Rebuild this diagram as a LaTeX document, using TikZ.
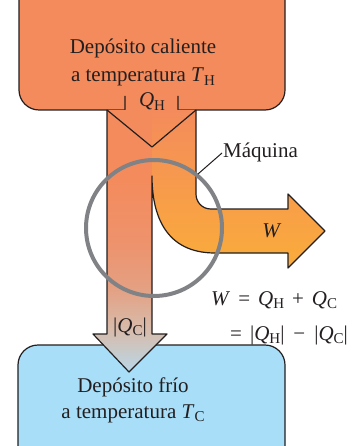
\documentclass[tikz,border=0pt]{standalone}
\usepackage{fontspec}
\setmainfont{Liberation Serif}
\definecolor{ink}{RGB}{35,31,32}
\definecolor{hotorange}{RGB}{244,139,92}
\definecolor{coldblue}{RGB}{168,222,247}
\definecolor{wbot}{RGB}{250,172,58}
\definecolor{ring}{RGB}{128,130,133}
\definecolor{csA}{RGB}{244,139,92}
\definecolor{csB}{RGB}{238,146,108}
\definecolor{csC}{RGB}{228,160,130}
\definecolor{csD}{RGB}{215,188,172}
\definecolor{csE}{RGB}{185,215,232}
\pgfdeclareverticalshading{colshade}{100bp}{color(0bp)=(csE); color(25bp)=(csE); color(33bp)=(csD); color(41bp)=(csC); color(50bp)=(csB); color(62bp)=(csA); color(100bp)=(csA)}
\newcommand\lsub[1]{\raisebox{-0.19em}{\fontsize{15}{15}\selectfont #1}}
\newcommand\gp{\hspace{8pt}}
\begin{document}
\begin{tikzpicture}[x=1pt,y=-1pt,line join=round,
  outl/.style={draw=ink,line width=1.2pt},
  lbl/.style={inner sep=0pt,text=ink,font=\fontsize{21}{26}\selectfont}]
\useasboundingbox (0,0) rectangle (354,446);
% cold reservoir
\path[fill=coldblue,outl] (18,470) -- (18,365) .. controls (18,354) and (27,345) .. (38,345) -- (265,345) .. controls (276,345) and (285,354) .. (285,365) -- (285,470);
% hot reservoir
\fill[hotorange] (19,-30) -- (19,90) .. controls (19,101) and (28,110) .. (39,110) -- (265,110) .. controls (276,110) and (285,101) .. (285,90) -- (285,-30) -- cycle;
\draw[outl] (19,-30) -- (19,90) .. controls (19,101) and (28,110) .. (39,110) -- (125,110) -- (125,96);
\draw[outl] (178,96) -- (178,110) -- (265,110) .. controls (276,110) and (285,101) .. (285,90) -- (285,-30);
% left column to cold reservoir
\shade[shading=colshade] (107,110) -- (107,334) -- (93,334) -- (129,372) -- (167,334) -- (152,334) -- (152,110) -- cycle;
% bent part to W
\shade[top color=hotorange,bottom color=wbot] (152,110) -- (196,110) -- (196,194) .. controls (196,202) and (202,209) .. (211,209) -- (288,209) -- (288,194) -- (325,231) -- (288,268) -- (288,253) -- (215,253) .. controls (166,253) and (152,216) .. (152,176) -- cycle;
\draw[outl] (196,110) -- (196,194) .. controls (196,202) and (202,209) .. (211,209) -- (288,209) -- (288,194) -- (325,231) -- (288,268) -- (288,253) -- (215,253) .. controls (166,253) and (152,216) .. (152,176) -- (152,334) -- (167,334) -- (129,372) -- (93,334) -- (107,334) -- (107,110);
\draw[outl] (107,110) -- (152,147) -- (196,110);
% engine ring
\draw[ring,line width=4pt] (154,228) circle[radius=68pt];
% labels
\node[lbl,anchor=base] (hot1) at (143,54) {Depósito caliente};
\node[lbl,anchor=base] (hot2) at (143,82) {a temperatura \textit{T}\lsub{H}};
\node[lbl,anchor=base] (qh) at (152,107) {\textit{Q}\lsub{H}};
\node[lbl,anchor=base west] (maq) at (223,158) {Máquina};
\coordinate (maqpt) at (198,174);
\draw[ink,line width=1pt] (maqpt) -- ([shift={(-1,-5)}]maq.base west);
\node[lbl,anchor=base] (w) at (272,237) {\textit{W}};
\node[lbl,anchor=base west] (eq1) at (211,305) {\textit{W}\gp=\gp\textit{Q}\lsub{H}\gp+\gp\textit{Q}\lsub{C}};
\node[lbl,anchor=base west] (eq2) at (230,340) {=\gp|\textit{Q}\lsub{H}|\hspace{9pt}−\hspace{9pt}|\textit{Q}\lsub{C}|};
\node[lbl,anchor=base] (qc) at (130,332) {|\textit{Q}\lsub{C}|};
\node[lbl,anchor=base] (cold1) at (133,392) {Depósito frío};
\node[lbl,anchor=base] (cold2) at (133,418) {a temperatura \textit{T}\lsub{C}};
\end{tikzpicture}
\end{document}
